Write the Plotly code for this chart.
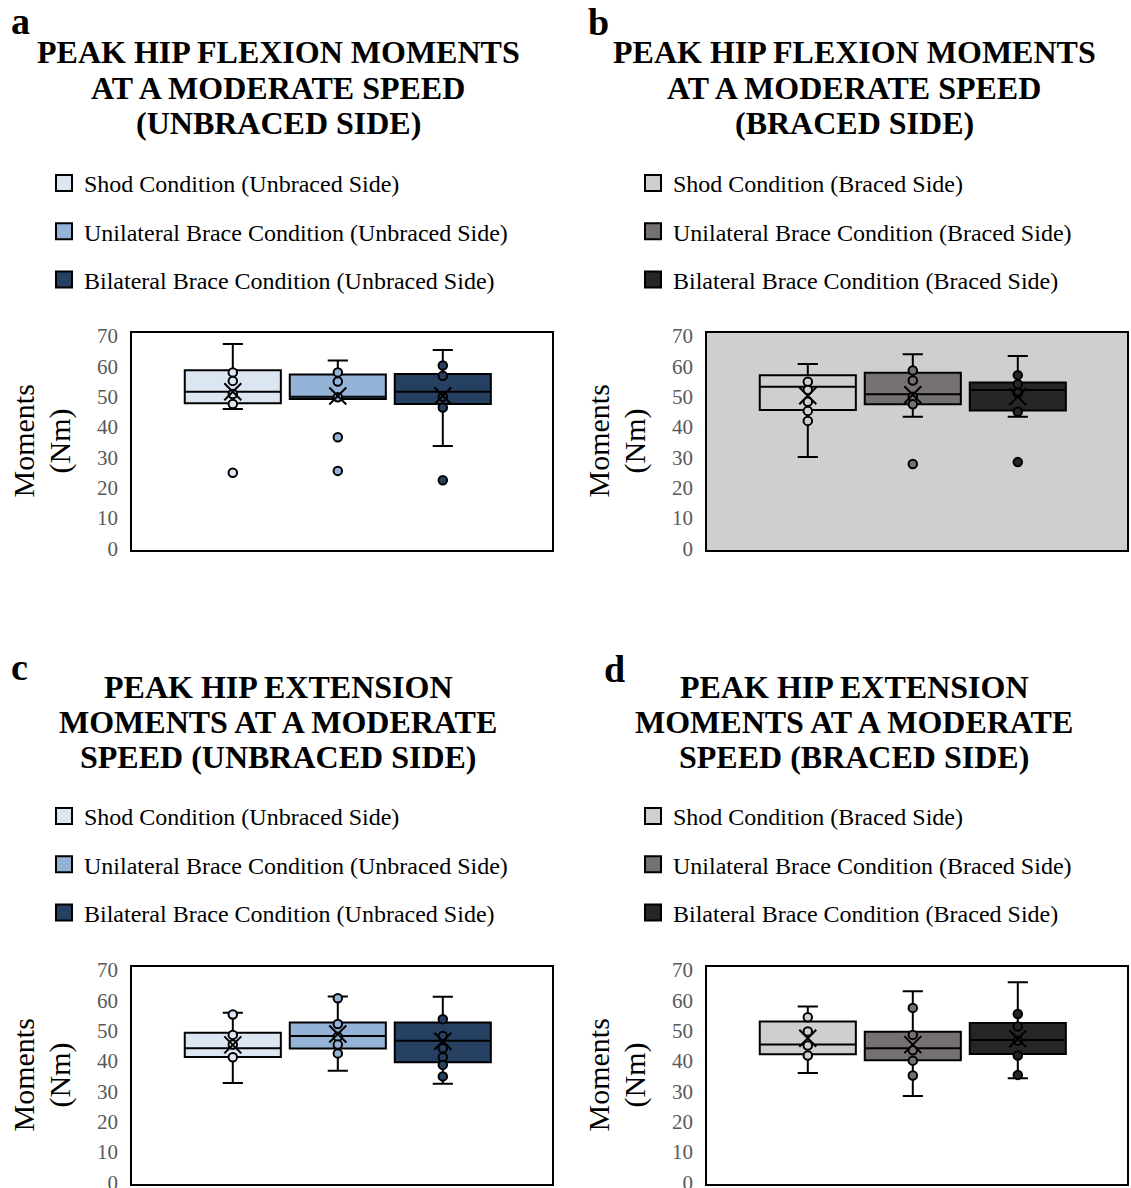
import plotly.graph_objects as go

W, H = 1131, 1188
SERIF = "Liberation Serif, Times New Roman, serif"

# ---- data: peak hip moments (Nm) at a moderate speed ----
unbraced_labels = ["Shod Condition (Unbraced Side)",
                   "Unilateral Brace Condition (Unbraced Side)",
                   "Bilateral Brace Condition (Unbraced Side)"]
braced_labels = ["Shod Condition (Braced Side)",
                 "Unilateral Brace Condition (Braced Side)",
                 "Bilateral Brace Condition (Braced Side)"]

# panel a: flexion, unbraced side
flex_unb_q1 = [47.8, 49.2, 47.6]
flex_unb_median = [51.6, 50.0, 51.6]
flex_unb_q3 = [58.7, 57.3, 57.5]
flex_unb_low = [45.9, 49.2, 33.7]
flex_unb_high = [67.4, 61.9, 65.4]
flex_unb_mean = [51.6, 50.2, 50.3]
flex_unb_points = [[58.0, 55.2, 50.9, 47.6, 24.9],
                   [58.0, 55.0, 49.8, 36.6, 25.5],
                   [60.3, 56.9, 50.0, 46.4, 22.4]]

# panel b: flexion, braced side
flex_br_q1 = [45.6, 47.5, 45.4]
flex_br_median = [53.3, 50.8, 52.2]
flex_br_q3 = [57.1, 57.9, 54.7]
flex_br_low = [30.1, 43.4, 43.4]
flex_br_high = [60.8, 64.0, 63.4]
flex_br_mean = [50.3, 50.6, 50.0]
flex_br_points = [[54.9, 52.2, 48.3, 45.3, 42.0],
                  [58.6, 55.3, 50.0, 47.5, 27.8],
                  [57.1, 54.1, 51.1, 45.0, 28.4]]

# panel c: extension, unbraced side
ext_unb_q1 = [41.3, 44.1, 39.6]
ext_unb_median = [44.2, 48.2, 46.7]
ext_unb_q3 = [49.3, 52.7, 52.7]
ext_unb_low = [32.7, 36.8, 32.5]
ext_unb_high = [55.9, 61.3, 61.2]
ext_unb_mean = [45.3, 48.9, 46.5]
ext_unb_points = [[55.3, 48.6, 45.4, 41.2],
                  [60.7, 52.2, 48.0, 45.4, 42.5],
                  [53.8, 48.2, 44.2, 41.2, 38.7, 34.9]]

# panel d: extension, braced side
ext_br_q1 = [42.2, 40.2, 42.3]
ext_br_median = [45.4, 44.2, 46.9]
ext_br_q3 = [53.0, 49.6, 52.5]
ext_br_low = [36.0, 28.4, 34.3]
ext_br_high = [58.0, 63.0, 66.0]
ext_br_mean = [47.5, 45.4, 47.3]
ext_br_points = [[54.4, 49.7, 45.1, 41.8],
                 [57.5, 48.6, 43.5, 40.1, 35.2],
                 [55.5, 51.4, 46.7, 41.8, 35.4]]

y_ticks = [0, 10, 20, 30, 40, 50, 60, 70]

blues = ["#DCE6F2", "#95B3D7", "#254061"]
greys = ["#D0CECE", "#767171", "#262626"]

panels = [
    dict(letter="a", title=["PEAK HIP FLEXION MOMENTS", "AT A MODERATE SPEED", "(UNBRACED SIDE)"],
         labels=unbraced_labels, colors=blues, q1=flex_unb_q1, med=flex_unb_median, q3=flex_unb_q3,
         low=flex_unb_low, high=flex_unb_high, mean=flex_unb_mean, pts=flex_unb_points, bg=None),
    dict(letter="b", title=["PEAK HIP FLEXION MOMENTS", "AT A MODERATE SPEED", "(BRACED SIDE)"],
         labels=braced_labels, colors=greys, q1=flex_br_q1, med=flex_br_median, q3=flex_br_q3,
         low=flex_br_low, high=flex_br_high, mean=flex_br_mean, pts=flex_br_points, bg="#D0CECE"),
    dict(letter="c", title=["PEAK HIP EXTENSION", "MOMENTS AT A MODERATE", "SPEED (UNBRACED SIDE)"],
         labels=unbraced_labels, colors=blues, q1=ext_unb_q1, med=ext_unb_median, q3=ext_unb_q3,
         low=ext_unb_low, high=ext_unb_high, mean=ext_unb_mean, pts=ext_unb_points, bg=None),
    dict(letter="d", title=["PEAK HIP EXTENSION", "MOMENTS AT A MODERATE", "SPEED (BRACED SIDE)"],
         labels=braced_labels, colors=greys, q1=ext_br_q1, med=ext_br_median, q3=ext_br_q3,
         low=ext_br_low, high=ext_br_high, mean=ext_br_mean, pts=ext_br_points, bg=None),
]

# pixel layout of each panel (left, right, top, bottom of the plot frame)
frames = [(132, 552, 333, 550), (707, 1127, 333, 550),
          (132, 552, 967, 1184), (707, 1127, 967, 1184)]
title_centers = [278, 854, 278, 854]
title_rows = [(52, 88, 123), (52, 88, 123), (687, 722, 757), (687, 722, 757)]
letter_pos = [(20, 21), (598, 22), (19, 667), (614, 669)]
legend_anchor = [(44, 161), (633, 161), (44, 794), (633, 794)]


def px(x):
    return x / W


def py(y):
    return 1 - y / H


fig = go.Figure()
annotations = []
shapes = []

for k, p in enumerate(panels):
    ax = "" if k == 0 else str(k + 1)
    xref, yref = "x" + ax, "y" + ax
    leg = "legend" + ax
    l, r, t, b = frames[k]

    for i, col in enumerate(p["colors"]):
        fig.add_trace(go.Box(
            x=[i], q1=[p["q1"][i]], median=[p["med"][i]], q3=[p["q3"][i]],
            lowerfence=[p["low"][i]], upperfence=[p["high"][i]],
            width=0.915, whiskerwidth=0.21, boxpoints=False,
            fillcolor=col, line=dict(color="black", width=2),
            showlegend=False, hoverinfo="skip", xaxis=xref, yaxis=yref))
    for i, col in enumerate(p["colors"]):
        fig.add_trace(go.Scatter(
            x=[i] * len(p["pts"][i]), y=p["pts"][i], mode="markers",
            marker=dict(color=col, size=8.5, line=dict(color="black", width=2)),
            showlegend=False, hoverinfo="skip", xaxis=xref, yaxis=yref))
    for i in range(3):
        fig.add_trace(go.Scatter(
            x=[i], y=[p["mean"][i]], mode="markers",
            marker=dict(symbol="x-thin", size=17, color="black",
                        line=dict(color="black", width=2)),
            showlegend=False, hoverinfo="skip", xaxis=xref, yaxis=yref))
    # legend entries
    for i, (lab, col) in enumerate(zip(p["labels"], p["colors"])):
        fig.add_trace(go.Scatter(
            x=[None], y=[None], mode="markers", name=lab,
            marker=dict(symbol="square", size=16, color=col,
                        line=dict(color="black", width=2)),
            legend=leg, legendgroup=f"{k}-{i}", xaxis=xref, yaxis=yref))

    axis_common = dict(showgrid=False, zeroline=False, showline=True, mirror=True,
                       linecolor="black", linewidth=1.5, ticks="", automargin=False)
    fig.update_layout({
        "xaxis" + ax: dict(domain=[px(l), px(r)], range=[-0.96, 3.04], showticklabels=False,
                           anchor=yref, **axis_common),
        "yaxis" + ax: dict(domain=[py(b), py(t)], range=[-0.6, 71], anchor=xref,
                           tickvals=y_ticks, ticklabelstandoff=8, ticklabeloverflow="allow",
                           tickfont=dict(family=SERIF, size=21, color="#595959"),
                           **axis_common),
        leg: dict(x=px(legend_anchor[k][0]), y=py(legend_anchor[k][1]),
                  xanchor="left", yanchor="top", traceorder="grouped",
                  tracegroupgap=14, itemwidth=30, bgcolor="rgba(0,0,0,0)",
                  font=dict(family=SERIF, size=24, color="black")),
    })

    if p["bg"]:
        shapes.append(dict(type="rect", xref=xref + " domain", yref=yref + " domain",
                           x0=0, x1=1, y0=0, y1=1, fillcolor=p["bg"],
                           line=dict(width=0), layer="below"))

    # panel letter
    lx, ly = letter_pos[k]
    annotations.append(dict(text="<b>" + p["letter"] + "</b>", x=px(lx), y=py(ly),
                            xref="paper", yref="paper", showarrow=False,
                            xanchor="center", yanchor="middle",
                            font=dict(family=SERIF, size=38, color="black")))
    # title, one annotation per line
    for line, yy in zip(p["title"], title_rows[k]):
        annotations.append(dict(text="<b>" + line + "</b>", x=px(title_centers[k]), y=py(yy),
                                xref="paper", yref="paper", showarrow=False,
                                xanchor="center", yanchor="middle",
                                font=dict(family=SERIF, size=32, color="black")))
    # y-axis title in two rotated lines
    ymid = (t + b) / 2
    for line, xx in (("Moments", l - 109), ("(Nm)", l - 73)):
        annotations.append(dict(text=line, x=px(xx), y=py(ymid), textangle=-90,
                                xref="paper", yref="paper", showarrow=False,
                                xanchor="center", yanchor="middle",
                                font=dict(family=SERIF, size=30, color="black")))

fig.update_layout(
    width=W, height=H, margin=dict(l=0, r=0, t=0, b=0, autoexpand=False),
    paper_bgcolor="white", plot_bgcolor="white",
    annotations=annotations, shapes=shapes,
)

fig.write_html("out.html")
